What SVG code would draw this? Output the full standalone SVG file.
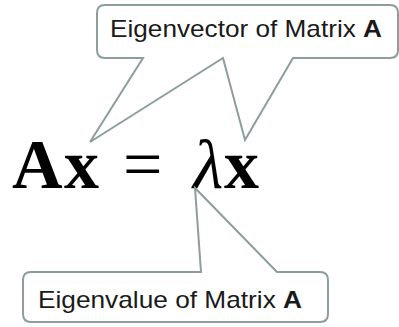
<svg xmlns="http://www.w3.org/2000/svg" width="399" height="327" viewBox="0 0 399 327">
<style>
.callout{fill:#ffffff;stroke:#8d9d9d;stroke-width:2;stroke-linejoin:miter}
.lbl{font-family:"Liberation Sans",Arial,sans-serif;font-size:24px;fill:#1a1a1a}
.b{font-weight:bold}
.math{font-family:"Liberation Serif","Times New Roman",serif;font-size:70px;fill:#000}
</style>
<rect width="399" height="327" fill="#ffffff"/>
<g id="formula">
<text class="math" y="188"><tspan x="12" font-weight="bold">A</tspan><tspan x="64" font-weight="bold">x</tspan><tspan x="123">=</tspan><tspan x="193" font-style="italic">λ</tspan><tspan x="224" font-weight="bold">x</tspan></text>
</g>
<g id="connectors">
</g>
<g id="eigenvector">
<path class="callout" d="M105,5 H390 Q398,5 398,13 V50 Q398,58 390,58 H293 L245,140 L223,58 L90,142 L143,58 H105 Q97,58 97,50 V13 Q97,5 105,5 Z"/>
<text class="lbl" x="110" y="37" textLength="272" lengthAdjust="spacingAndGlyphs">Eigenvector of Matrix <tspan class="b">A</tspan></text>
</g>
<g id="eigenvalue">
<path class="callout" d="M31,272 H201 L195,188 L277,272 H320 Q328,272 328,280 V314 Q328,322 320,322 H31 Q23,322 23,314 V280 Q23,272 31,272 Z"/>
<text class="lbl" x="38" y="308" textLength="264" lengthAdjust="spacingAndGlyphs">Eigenvalue of Matrix <tspan class="b">A</tspan></text>
</g>
</svg>
